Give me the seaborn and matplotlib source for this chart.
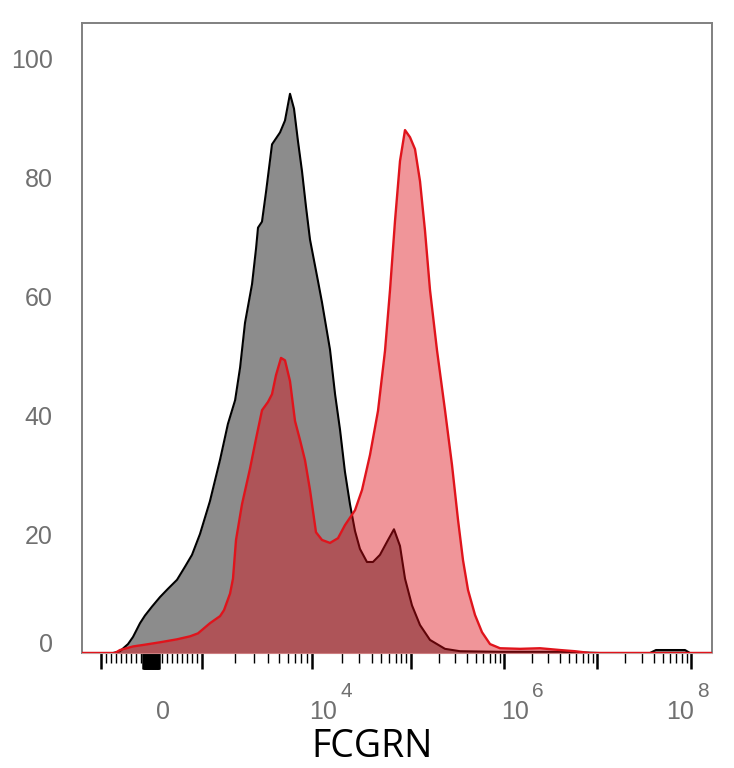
import numpy as np
import pandas as pd
import matplotlib
matplotlib.use("Agg")
import matplotlib.pyplot as plt
import matplotlib.transforms as mtransforms
import seaborn as sns

# control histogram (grey): FCGRN intensity vs % of max
ctrl_x = [-1585, -762, -624, -465, -366, -228, -129, 10, 168, 327, 505, 663, 802, 960,
          1180, 1460, 1720, 2000, 2220, 2460, 2850, 3100, 3230, 3510, 3820, 4330, 5120,
          5680, 6310, 6860, 7460, 8110, 8820, 9590, 11500, 12600, 15200, 17100, 19200,
          21500, 24200, 27200, 30500, 35900, 41300, 48600, 58600, 67300, 77400, 87000,
          102500, 125000, 160000, 232000, 336000, 906000, 4.0e6, 1.08e7, 3.66e7, 4.24e7,
          8.63e7, 9.75e7, 1.67e8]
ctrl_y = [0, 0, 0.3, 1.5, 2.7, 5.0, 6.3, 7.8, 9.4, 10.8, 12.3, 14.5, 16.5, 20,
          25.5, 32.5, 38.5, 42.5, 48, 55.5, 62, 68, 71.5, 72.5, 77.5, 85.5, 87.5,
          89.5, 94, 91.5, 86, 81, 75, 69.5, 62.5, 59, 51, 43.5, 37.5,
          30.5, 25, 20.5, 17.5, 15.3, 15.3, 16.5, 19, 20.8, 18, 12.5,
          8, 4.7, 2.2, 0.7, 0.3, 0.2, 0.2, 0, 0, 0.5,
          0.5, 0, 0]

# FCGRN stained sample (red)
stain_x = [-1585, -723, -624, -366, -129, 168, 505, 762, 921, 1180, 1460, 1585, 1800,
           1913, 2038, 2310, 2732, 3097, 3512, 3981, 4329, 4706, 5227, 5681, 6310, 7007,
           7781, 8638, 9590, 10970, 12620, 15200, 18310, 21540, 27190, 32000, 38540,
           46420, 54640, 61370, 68920, 77430, 86980, 97700, 110400, 125000, 141400,
           160100, 190300, 232100, 276000, 320200, 362400, 410200, 487700, 580000,
           707200, 906000, 1.49e6, 2.44e6, 4.0e6, 5.8e6, 8.4e6, 1.67e8]
stain_y = [0, 0, 0.5, 1.1, 1.4, 1.8, 2.3, 2.8, 3.3, 5, 6.2, 7.2, 10,
           12.5, 19, 25, 31, 36, 40.8, 42.2, 43.5, 46.7, 49.6, 49.2, 45.7, 39,
           35.8, 32.4, 27.4, 20.3, 19, 18.5, 19.3, 21.5, 24, 27.4, 33.3,
           40.7, 50.8, 61, 72.6, 82.7, 87.9, 86.7, 84.7, 79.3, 71,
           61, 50.9, 40.8, 31.6, 22.4, 15.6, 10.6, 6.4, 3.5,
           1.5, 0.8, 0.7, 0.8, 0.5, 0.3, 0, 0]

y_ticks = [0, 20, 40, 60, 80, 100]
x_label_vals = [0, 1e4, 1e6, 1e8]
x_label_exps = ["", "4", "6", "8"]

ctrl = pd.DataFrame({"FCGRN": ctrl_x, "pct": ctrl_y})
stain = pd.DataFrame({"FCGRN": stain_x, "pct": stain_y})

# biexponential-like display: linear from -1e3 to 1e3, log decades above
U_ANCH = [-3, -2, -1, 1, 2, 3, 4, 5, 6, 7, 8]
P_ANCH = [-89, 6, 101, 202, 312, 411, 504, 597, 691, 785, 879]


def to_u(x):
    x = np.asarray(x, dtype=float)
    a = np.maximum(np.abs(x), 1e-9)
    lg = np.sign(x) * (1 + np.log10(a / 1e3))
    return np.where(np.abs(x) <= 1e3, x / 1e3, lg)


def fwd(x):
    return np.interp(to_u(x), U_ANCH, P_ANCH)


def inv(p):
    u = np.interp(np.asarray(p, dtype=float), P_ANCH, U_ANCH)
    return np.where(np.abs(u) <= 1, u * 1e3, np.sign(u) * 1e3 * 10 ** (np.abs(u) - 1))


sns.set_style("white")
plt.rcParams["font.family"] = ["Liberation Sans", "DejaVu Sans"]

fig = plt.figure(figsize=(7.34, 7.68), dpi=100)
ax = fig.add_axes([82 / 734, 115 / 768, 630 / 734, 630 / 768])
ax.set_xscale("function", functions=(fwd, inv))

ax.fill_between(ctrl["FCGRN"], ctrl["pct"], color="#8c8c8c", lw=0, zorder=1)
sns.lineplot(data=ctrl, x="FCGRN", y="pct", color="black", lw=1.5, ax=ax, zorder=2)
ax.fill_between(stain["FCGRN"], stain["pct"], color="#dd0a14", alpha=0.43, lw=0, zorder=3)
sns.lineplot(data=stain, x="FCGRN", y="pct", color="#e0141c", lw=1.7, ax=ax, zorder=4)

ax.set_xlim(float(inv(82)), float(inv(712)))
ax.set_ylim(0, 105.9)

# ticks
major = [-1e3, 1e3, 1e4, 1e5, 1e6, 1e7, 1e8] + list(np.arange(-160, 150, 8))
minor = [s * v for s in (-1, 1) for v in range(100, 1000, 100)]
minor += [k * 10 ** d for d in range(3, 8) for k in range(2, 10)]
ax.set_xticks(major, labels=[""] * len(major))
ax.set_xticks(minor, minor=True)
ax.tick_params(axis="x", which="major", bottom=True, length=11.5, width=1.8,
               color="black", direction="out")
ax.tick_params(axis="x", which="minor", bottom=True, length=7, width=1.0,
               color="black", direction="out")

ax.set_yticks(y_ticks)
ax.tick_params(axis="y", left=False, length=0, pad=21, labelsize=18, labelcolor="#707070")
zero_tick = ax.yaxis.get_major_ticks()[0]
zero_tick.label1.set_transform(zero_tick.label1.get_transform() +
                               mtransforms.ScaledTranslation(0, 0.10, fig.dpi_scale_trans))

for side in ["left", "top", "right"]:
    ax.spines[side].set_color("#808080")
    ax.spines[side].set_linewidth(1.4)
ax.spines["bottom"].set_color("#c8a0a0")
ax.spines["bottom"].set_linewidth(0.8)

ax.set_xlabel("")
ax.set_ylabel("")

# x tick labels: 0, 10^4, 10^6, 10^8
base = mtransforms.blended_transform_factory(ax.transData, ax.transAxes)
dx_base = [11.5, 11, 11, -11]
dx_exp = [0, 34, 34, 12]
for v, e, d1, d2 in zip(x_label_vals, x_label_exps, dx_base, dx_exp):
    txt = "0" if e == "" else "10"
    ax.text(v, -0.1048, txt, fontsize=18, color="#707070", ha="center", va="baseline",
            transform=base + mtransforms.ScaledTranslation(d1 / 100, 0, fig.dpi_scale_trans),
            clip_on=False)
    if e:
        ax.text(v, -0.0698, e, fontsize=15, color="#707070", ha="center", va="baseline",
                transform=base + mtransforms.ScaledTranslation(d2 / 100, 0, fig.dpi_scale_trans),
                clip_on=False)

fig.text(372 / 734, 1 - 757 / 768, "FCGRN", fontsize=27, family="Open Sans",
         ha="center", va="baseline", color="black")

fig.savefig("out.png", dpi=100)
